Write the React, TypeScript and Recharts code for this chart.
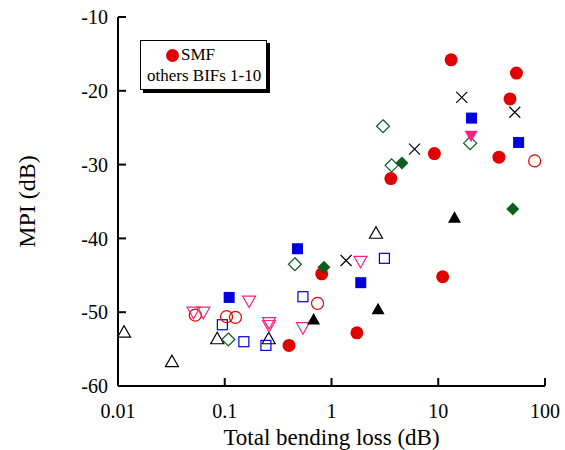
import { ScatterChart, Scatter, XAxis, YAxis } from 'recharts';

// Total bending loss (dB) vs MPI (dB)
const smfFilled = [
  { x: 13.2, y: -15.8 }, { x: 54, y: -17.6 }, { x: 47, y: -21.1 }, { x: 9.2, y: -28.5 },
  { x: 37, y: -29.0 }, { x: 3.6, y: -31.9 }, { x: 0.81, y: -44.8 }, { x: 11, y: -45.2 },
  { x: 1.73, y: -52.8 }, { x: 0.4, y: -54.5 },
];
const redOpen = [
  { x: 0.053, y: -50.4 }, { x: 0.104, y: -50.6 }, { x: 0.126, y: -50.7 }, { x: 0.74, y: -48.8 }, { x: 80, y: -29.5 },
];
const blueFilled = [
  { x: 0.11, y: -48.0 }, { x: 0.48, y: -41.4 }, { x: 1.88, y: -46.0 }, { x: 20.5, y: -23.7 }, { x: 56.6, y: -27.0 },
];
const blueOpen = [
  { x: 0.095, y: -51.7 }, { x: 0.151, y: -54.0 }, { x: 0.243, y: -54.5 }, { x: 0.54, y: -47.9 }, { x: 3.13, y: -42.7 },
];
const blackTriFilled = [{ x: 0.68, y: -51.0 }, { x: 2.73, y: -49.6 }, { x: 14.2, y: -37.2 }];
const blackTriOpen = [
  { x: 0.0114, y: -52.7 }, { x: 0.032, y: -56.7 }, { x: 0.085, y: -53.6 }, { x: 0.258, y: -53.6 }, { x: 2.61, y: -39.3 },
];
const greenOpen = [
  { x: 0.454, y: -43.5 }, { x: 0.108, y: -53.7 }, { x: 3.04, y: -24.8 }, { x: 3.66, y: -30.1 }, { x: 19.9, y: -27.1 },
];
const greenFilled = [{ x: 0.85, y: -43.9 }, { x: 4.57, y: -29.8 }, { x: 49.9, y: -36.0 }];
const pinkOpen = [
  { x: 0.051, y: -50.0 }, { x: 0.063, y: -50.0 }, { x: 0.169, y: -48.5 }, { x: 0.26, y: -51.4 },
  { x: 0.26, y: -51.8 }, { x: 0.54, y: -52.1 }, { x: 1.87, y: -43.1 },
];
const pinkFilled = [{ x: 20.3, y: -26.1 }];
const crosses = [{ x: 1.37, y: -43.0 }, { x: 6.0, y: -27.9 }, { x: 16.6, y: -20.9 }, { x: 52.1, y: -22.9 }];

const xTicks = [0.01, 0.1, 1, 10, 100];
const yTicks = [-60, -50, -40, -30, -20, -10];

const RED = '#e00000';
const BLUE = '#0000dd';
const GREEN = '#0b5e1f';
const PINK = '#ff2080';
const FONT = '"Liberation Serif", "Times New Roman", serif';

type Kind = 'circle' | 'square' | 'up' | 'down' | 'diamond' | 'x';

const marker = (kind: Kind, color: string, filled: boolean) => (props: any) => {
  const { cx, cy } = props;
  if (cx == null || cy == null) return <g />;
  const fill = filled ? color : 'none';
  const sw = filled ? 0 : 1.2;
  switch (kind) {
    case 'circle':
      return <circle cx={cx} cy={cy} r={filled ? 6.5 : 6} fill={fill} stroke={color} strokeWidth={sw} />;
    case 'square': {
      const h = filled ? 5.5 : 5;
      return <rect x={cx - h} y={cy - h} width={2 * h} height={2 * h} fill={fill} stroke={color} strokeWidth={sw} />;
    }
    case 'up':
      return <path d={`M${cx} ${cy - 6.5} L${cx - 6.5} ${cy + 5} L${cx + 6.5} ${cy + 5} Z`} fill={fill} stroke={color} strokeWidth={sw} />;
    case 'down':
      return <path d={`M${cx - 6.5} ${cy - 5} L${cx + 6.5} ${cy - 5} L${cx} ${cy + 6.5} Z`} fill={fill} stroke={color} strokeWidth={sw} />;
    case 'diamond':
      return <path d={`M${cx} ${cy - 6.5} L${cx + 6.5} ${cy} L${cx} ${cy + 6.5} L${cx - 6.5} ${cy} Z`} fill={fill} stroke={color} strokeWidth={sw} />;
    default:
      return (
        <path d={`M${cx - 5.5} ${cy - 5.5} L${cx + 5.5} ${cy + 5.5} M${cx - 5.5} ${cy + 5.5} L${cx + 5.5} ${cy - 5.5}`} stroke={color} strokeWidth={1.2} fill="none" />
      );
  }
};

const series: { data: { x: number; y: number }[]; shape: any }[] = [
  { data: blackTriOpen, shape: marker('up', '#000', false) },
  { data: blueOpen, shape: marker('square', BLUE, false) },
  { data: greenOpen, shape: marker('diamond', GREEN, false) },
  { data: redOpen, shape: marker('circle', RED, false) },
  { data: pinkOpen, shape: marker('down', PINK, false) },
  { data: crosses, shape: marker('x', '#000', false) },
  { data: smfFilled, shape: marker('circle', RED, true) },
  { data: blueFilled, shape: marker('square', BLUE, true) },
  { data: greenFilled, shape: marker('diamond', GREEN, true) },
  { data: blackTriFilled, shape: marker('up', '#000', true) },
  { data: pinkFilled, shape: marker('down', PINK, true) },
];

const tickStyle = { fill: '#000', fontSize: 20, fontFamily: FONT };
const axisLine = { stroke: '#000', strokeWidth: 2 };
const tickLine = { stroke: '#000', strokeWidth: 2 };

const YTitle = (props: any) => {
  const { viewBox } = props;
  const x = viewBox.x + 35;
  const y = viewBox.y + viewBox.height / 2;
  return (
    <text x={x} y={y} transform={`rotate(-90 ${x} ${y})`} textAnchor="middle" fontSize={24} fontFamily={FONT} fill="#000">
      MPI (dB)
    </text>
  );
};

const XTitle = (props: any) => {
  const { viewBox } = props;
  const x = viewBox.x + viewBox.width / 2;
  return (
    <text x={x} y={445} textAnchor="middle" fontSize={23} fontFamily={FONT} fill="#000">
      Total bending loss (dB)
    </text>
  );
};

export default function App() {
  return (
    <div style={{ position: 'absolute', left: 0, top: 0, width: 565, height: 450, background: '#fff' }}>
      <ScatterChart width={565} height={450} margin={{ top: 17, right: 20, left: 0, bottom: 0 }}>
        <XAxis
          xAxisId="b"
          dataKey="x"
          type="number"
          scale="log"
          domain={[0.01, 100]}
          ticks={xTicks}
          allowDataOverflow
          height={64}
          tickSize={-8}
          tickMargin={26}
          tick={tickStyle}
          axisLine={axisLine}
          tickLine={tickLine}
          tickFormatter={(v: number) => String(v)}
          label={<XTitle />}
        />
        <XAxis
          xAxisId="t"
          orientation="top"
          type="number"
          scale="log"
          domain={[0.01, 100]}
          ticks={xTicks}
          allowDataOverflow
          height={0}
          tickSize={-8}
          tick={false}
          axisLine={axisLine}
          tickLine={tickLine}
        />
        <YAxis
          yAxisId="l"
          dataKey="y"
          type="number"
          domain={[-60, -10]}
          ticks={yTicks}
          allowDataOverflow
          width={118}
          tickSize={-8}
          tickMargin={18}
          tick={tickStyle}
          axisLine={axisLine}
          tickLine={tickLine}
          label={<YTitle />}
        />
        <YAxis
          yAxisId="r"
          orientation="right"
          type="number"
          domain={[-60, -10]}
          ticks={yTicks}
          allowDataOverflow
          width={0}
          tickSize={-8}
          tick={false}
          axisLine={axisLine}
          tickLine={tickLine}
        />
        {series.map((s, i) => (
          <Scatter key={i} data={s.data} xAxisId="b" yAxisId="l" shape={s.shape} isAnimationActive={false} />
        ))}
      </ScatterChart>
      <div
        style={{
          position: 'absolute', left: 140, top: 40, width: 125, height: 48, background: '#fff',
          border: '1px solid #000', boxShadow: '3px 3px 0 #000', fontFamily: FONT, fontSize: 17, color: '#000',
        }}
      >
        <div style={{ position: 'absolute', left: 25, top: 8, width: 13, height: 13, borderRadius: '50%', background: RED }} />
        <div style={{ position: 'absolute', left: 40, top: 4, lineHeight: '20px' }}>SMF</div>
        <div style={{ position: 'absolute', left: 6, top: 25, lineHeight: '20px', whiteSpace: 'nowrap' }}>others BIFs 1-10</div>
      </div>
    </div>
  );
}
